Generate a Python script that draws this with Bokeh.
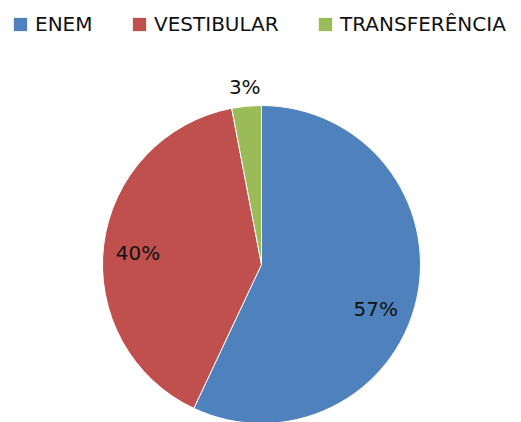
import math
from bokeh.plotting import figure
from bokeh.models import Range1d, Legend, LegendItem, ColumnDataSource
from bokeh.core.properties import value
from bokeh.embed import file_html
from bokeh.resources import INLINE

categories = ["ENEM", "VESTIBULAR", "TRANSFERÊNCIA"]
shares = [57, 40, 3]
pct_labels = ["57%", "40%", "3%"]
colors = ["#4F81BD", "#C0504D", "#9BBB59"]

# style / layout (screen px, y measured upward from bottom)
W, H = 521, 422
CX, CY, R = 261, 158, 159
label_r = [0.77, 0.78, 1.12]
label_nudge_deg = [-8.5, 1.7, 0.0]
FONT = "DejaVu Sans"

p = figure(width=W, height=H, output_backend="svg", toolbar_location=None,
           x_range=Range1d(0, W), y_range=Range1d(0, H), min_border=0)
p.axis.visible = False
p.grid.visible = False
p.outline_line_color = None

total = float(sum(shares))
start = math.pi / 2
renderers = []
lx, ly = [], []
for i, s in enumerate(shares):
    sweep = 2 * math.pi * s / total
    end = start - sweep
    r = p.wedge(x=CX, y=CY, radius=R, start_angle=start, end_angle=end,
                direction="clock", fill_color=colors[i],
                line_color="white", line_width=1)
    renderers.append(r)
    mid = (start + end) / 2 + math.radians(label_nudge_deg[i])
    lx.append(CX + label_r[i] * R * math.cos(mid))
    ly.append(CY + label_r[i] * R * math.sin(mid))
    start = end

src = ColumnDataSource(dict(x=lx, y=ly, t=pct_labels))
p.text(x="x", y="y", text="t", source=src, text_align="center",
       text_baseline="middle", text_font=value(FONT),
       text_font_size="20px", text_color="#111111")

legend_x = [11, 130, 316]
for i, cat in enumerate(categories):
    lg = Legend(items=[LegendItem(label=cat, renderers=[renderers[i]])],
                location=(legend_x[i], H - 36), orientation="horizontal",
                padding=0, margin=0, spacing=0,
                glyph_width=18, glyph_height=18, label_height=18,
                label_standoff=6, border_line_alpha=0,
                background_fill_alpha=0,
                label_text_font=FONT, label_text_font_size="20px",
                label_text_color="#111111")
    p.add_layout(lg)

open("out.html", "w").write(file_html(p, INLINE))
